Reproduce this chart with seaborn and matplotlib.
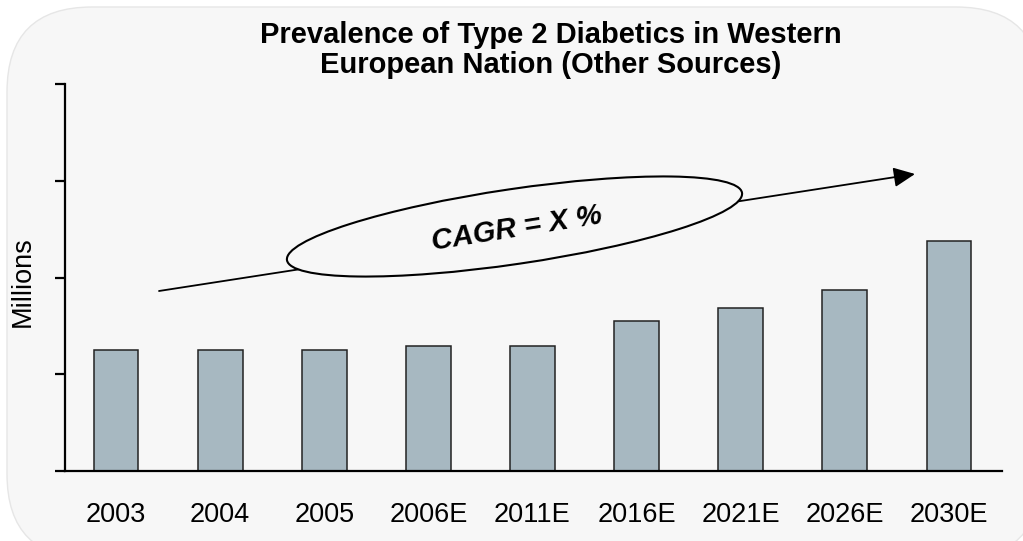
import matplotlib
matplotlib.use("Agg")
import matplotlib.pyplot as plt
import seaborn as sns
import pandas as pd
from matplotlib.patches import FancyBboxPatch, Ellipse, FancyArrowPatch
from matplotlib.transforms import IdentityTransform

# Data (millions, y axis unlabelled 0-4)
years = ['2003', '2004', '2005', '2006E', '2011E', '2016E', '2021E', '2026E', '2030E']
prevalence = [1.25, 1.25, 1.25, 1.29, 1.29, 1.55, 1.68, 1.87, 2.38]

df = pd.DataFrame({'year': years, 'millions': prevalence})

sns.set_style("white")
plt.rcParams['font.family'] = ['Liberation Sans', 'DejaVu Sans']
plt.rcParams['text.color'] = 'black'
plt.rcParams['axes.labelcolor'] = 'black'
plt.rcParams['xtick.color'] = 'black'
plt.rcParams['ytick.color'] = 'black'

W, H = 1023, 541
fig = plt.figure(figsize=(W / 100, H / 100), dpi=100, facecolor='white')
ax = fig.add_axes([65 / W, 1 - 471 / H, (1002 - 65) / W, (471 - 84) / H])
ax.patch.set_visible(False)

# rounded panel behind everything (pixel coords, y up)
panel = FancyBboxPatch((7, H - 559), 1041 - 7, 559 - 7,
                       boxstyle="round,pad=0,rounding_size=85",
                       transform=IdentityTransform(), fc='#f7f7f7',
                       ec='#e6e6e6', lw=1, zorder=-1)
fig.patches.append(panel)

sns.barplot(data=df, x='year', y='millions', color='#a7b8c1', saturation=1,
            edgecolor='#222222', linewidth=1.1, width=0.43, ax=ax)

ax.set_xlim(-0.49, 8.51)
ax.set_ylim(0, 4)
ax.set_yticks([0, 1, 2, 3, 4])
ax.set_yticklabels([])
sns.despine(ax=ax)
for s in ['left', 'bottom']:
    ax.spines[s].set_linewidth(1.6)
    ax.spines[s].set_color('black')
ax.tick_params(axis='y', length=7, width=1.6, direction='out', color='black', left=True)
ax.tick_params(axis='x', length=0, pad=22, labelsize=19.5, labelcolor='black')
ax.set_xlabel('')
ax.set_ylabel('Millions', fontsize=19.5, color='black')
ax.yaxis.set_label_coords(-0.031, 0.49)

fig.text(551, H - 50, 'Prevalence of Type 2 Diabetics in Western\nEuropean Nation (Other Sources)',
         transform=IdentityTransform(), ha='center', va='center', fontsize=21,
         fontweight='bold', linespacing=1.12, color='black')

# CAGR arrow with ellipse callout
arrow = FancyArrowPatch((159, H - 291), (915, H - 174), transform=IdentityTransform(),
                        arrowstyle='-|>,head_length=0.65,head_width=0.3',
                        mutation_scale=20, lw=1.3, color='black',
                        shrinkA=0, shrinkB=0, zorder=5)
fig.add_artist(arrow)
oval = Ellipse((514.5, H - 226.5), 460, 75, angle=8.4, transform=IdentityTransform(),
               fc='#f7f7f7', ec='black', lw=1.5, zorder=6)
fig.add_artist(oval)
fig.text(517, H - 229, 'CAGR = X %', transform=IdentityTransform(), ha='center',
         va='center', rotation=9, rotation_mode='anchor', fontsize=21,
         fontweight='bold', fontstyle='italic', color='black', zorder=7)

fig.savefig('out.png', dpi=100)
